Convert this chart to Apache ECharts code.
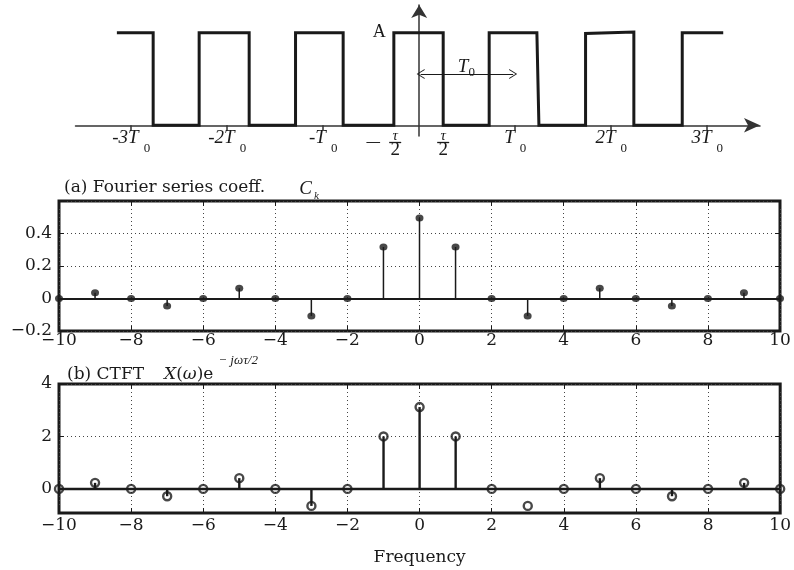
<!DOCTYPE html>
<html><head><meta charset="utf-8">
<script src="https://cdn.jsdelivr.net/npm/echarts@6/dist/echarts.min.js"></script>
<style>html,body{margin:0;padding:0;background:#fff}#c{width:794px;height:570px}</style>
</head><body><div id="c"></div>
<script>
// ---------------- data ----------------
const freqK   = [-10,-9,-8,-7,-6,-5,-4,-3,-2,-1,0,1,2,3,4,5,6,7,8,9,10];
const coeffC  = [0,0.035,0,-0.046,0,0.063,0,-0.107,0,0.317,0.495,0.317,0,-0.107,0,0.063,0,-0.046,0,0.035,0];
const ctftX   = [0,0.23,0,-0.28,0,0.41,0,-0.65,0,2.0,3.12,2.0,0,-0.65,0,0.41,0,-0.28,0,0.23,0];
const ctftNoStemK = [3];
// square wave (time in units of T0, amplitude in units of A)
const waveT = [-3.149,-2.771,-2.771,-2.292,-2.292,-1.771,-1.771,-1.288,-1.288,-0.792,-0.792,-0.264,-0.264,0.25,0.25,0.729,0.729,1.226,1.247,1.733,1.733,2.236,2.236,2.740,2.740,3.167];
const waveA = [1,1,0,0,1,1,0,0,1,1,0,0,1,1,0,0,1,1,0,0,0.993,1.008,0,0,1,1];
const waveTickT   = [-3,-2,-1,1,2,3];
const waveLabelT  = [-3,-2,-1,-0.25,0.25,1,2,3];
const waveLabelTx = ['-3T|0','-2T|0','-T|0','-frac','frac','T|0','2T|0','3T|0'];
const periodArrow = [[0.015,0.554],[0.979,0.554]];
const ampLabel    = [-0.417,1.01];
const yTicksB     = [0,2,4];

// ---------------- chart ----------------
const INK = '#1a1a1a';
const SERIF = 'DejaVu Serif';
const chart = echarts.init(document.getElementById('c'), null, {renderer:'canvas'});
const minus = s => String(s).replace('-', '\u2212');

function waveLabel(v){
  const i = waveLabelT.findIndex(t => Math.abs(t - v) < 1e-6);
  if (i < 0) return '';
  const s = waveLabelTx[i];
  if (s === '-frac') return '{z| }\n{l| }{ft|\u03c4}{r| }\n{ld|\u2014}{bar| }{r| }\n{l| }{fn|2}{r| }';
  if (s === 'frac')  return '{z| }\n{l| }{ft|\u03c4}{r| }\n{l| }{bar| }{r| }\n{l| }{fn|2}{r| }';
  const [a,b] = s.split('|');
  return '{m|' + a + '}{s|' + b + '}';
}
const waveRich = {
  m:{fontFamily:'Liberation Serif',fontStyle:'italic',fontSize:19,lineHeight:20,verticalAlign:'top',color:INK},
  s:{fontFamily:'Liberation Serif',fontSize:13,lineHeight:27,verticalAlign:'bottom',color:INK,padding:[0,0,0,5]},
  z:{width:1,fontSize:3,lineHeight:3},
  ld:{fontFamily:SERIF,fontSize:15,width:32,align:'center',lineHeight:3,color:INK},
  l:{width:32,fontSize:4,lineHeight:3},
  r:{width:32,fontSize:4,lineHeight:3},
  ft:{fontFamily:'Liberation Serif',fontStyle:'italic',fontSize:15,width:14,align:'center',lineHeight:10,color:INK},
  bar:{width:12,height:1.3,lineHeight:3,fontSize:3,backgroundColor:INK},
  fn:{fontFamily:'Liberation Serif',fontSize:19,width:14,align:'center',lineHeight:12,color:INK}
};

const stemItem = (params, api) => {
  const x = api.value(0), y = api.value(1);
  const p0 = api.coord([x, 0]), p1 = api.coord([x, y]);
  return {type:'line', shape:{x1:p0[0],y1:p0[1],x2:p1[0],y2:p1[1]},
          style:{stroke:INK, lineWidth: params.seriesIndex === 1 ? 1.5 : 2.4}};
};
const pairs = (xs, ys) => xs.map((x,i)=>[x, ys[i]]);
const gridLine = {show:true, lineStyle:{color:'#444', width:1, type:[1,3]}};
const lbl = {fontFamily:SERIF, fontSize:17, color:INK};

const panelX = (grid, top, extra) => Object.assign({
  type:'value', gridIndex:grid, min:-10, max:10, interval:2,
  position: top ? 'top' : 'bottom',
  axisLine:{show:false, onZero:false},
  axisTick:{show:true, inside:true, length:5, lineStyle:{color:INK, width:1}},
  axisLabel: top ? {show:false} : Object.assign({formatter:v=>minus(v)}, lbl),
  splitLine: top ? {show:false} : gridLine
}, extra||{});

const option = {
  animation:false,
  backgroundColor:'#fff',
  title:[
    {left:64, top:179, padding:0,
     text:'{r|(a) Fourier series coeff.}{g| }{i|C}{k|k}',
     textStyle:{fontWeight:'normal', rich:{
       r:{fontFamily:SERIF,fontWeight:'normal',fontSize:17,lineHeight:22,verticalAlign:'top',color:INK},
       g:{width:34,fontSize:10},
       i:{fontFamily:'Liberation Serif',fontWeight:'normal',fontStyle:'italic',fontSize:19,lineHeight:22,verticalAlign:'top',color:INK},
       k:{fontFamily:SERIF,fontWeight:'normal',fontStyle:'italic',fontSize:9,lineHeight:10,verticalAlign:'bottom',color:INK,padding:[0,0,0,2]}
     }}},
    {left:67, top:354, padding:0,
     text:'{r|(b) CTFT}{g| }{i|X}{r|(}{i|\u03c9}{r|)e}{sp| }{sup|\u2212 j\u03c9\u03c4/2}',
     textStyle:{fontWeight:'normal', rich:{
       r:{fontFamily:SERIF,fontWeight:'normal',fontSize:17,lineHeight:20,verticalAlign:'bottom',color:INK},
       g:{width:20,fontSize:10,lineHeight:29},
       sp:{width:5,fontSize:10},
       i:{fontFamily:SERIF,fontWeight:'normal',fontStyle:'italic',fontSize:17,lineHeight:20,verticalAlign:'bottom',color:INK},
       sup:{fontFamily:'Liberation Serif',fontWeight:'normal',fontStyle:'italic',fontSize:13,lineHeight:10,verticalAlign:'top',color:INK}
     }}}
  ],
  grid:[
    {left:75.5, top:5, width:684.5, height:131},
    {left:59, top:201, width:721, height:130, show:true, borderColor:INK, borderWidth:3, backgroundColor:'transparent'},
    {left:59, top:384, width:722, height:129, show:true, borderColor:INK, borderWidth:3, backgroundColor:'transparent'}
  ],
  xAxis:[
    {type:'value', gridIndex:0, min:-3.58, max:3.55,
     axisLine:{show:true, onZero:true, symbol:['none','arrow'], symbolSize:[11,16], lineStyle:{color:'#333', width:1.5}},
     axisTick:{show:true, customValues:waveTickT, length:5, lineStyle:{color:'#333', width:1.5}},
     axisLabel:{show:true, customValues:waveLabelT, margin:-8, formatter:waveLabel, rich:waveRich},
     splitLine:{show:false}},
    panelX(1,false,{axisLabel:Object.assign({formatter:v=>minus(v), margin:1}, lbl)}),
    panelX(1,true),
    panelX(2,false,{axisLabel:Object.assign({formatter:v=>minus(v), margin:4}, lbl),
      name:'Frequency', nameLocation:'middle', nameGap:36, nameTextStyle:lbl}),
    panelX(2,true)
  ],
  yAxis:[
    {type:'value', gridIndex:0, min:-0.116, max:1.3,
     axisLine:{show:true, onZero:true, symbol:['none','arrow'], symbolSize:[12,13], lineStyle:{color:'#333', width:1.5}},
     axisTick:{show:false}, axisLabel:{show:false}, splitLine:{show:false}},
    {type:'value', gridIndex:1, min:-0.2, max:0.6, interval:0.2,
     axisLine:{show:false, onZero:false},
     axisTick:{show:true, inside:true, length:5, lineStyle:{color:INK}},
     axisLabel:Object.assign({margin:7, formatter:v=>{const r=Math.round(v*10)/10; if (r>=0.6) return ''; return r===0?'0':minus(r.toFixed(1));}}, lbl),
     splitLine:gridLine},
    {type:'value', gridIndex:1, min:-0.2, max:0.6, interval:0.2, position:'right',
     axisLine:{show:false, onZero:false}, axisTick:{show:true, inside:true, length:5, lineStyle:{color:INK}},
     axisLabel:{show:false}, splitLine:{show:false}},
    {type:'value', gridIndex:2, min:-0.92, max:4,
     axisLine:{show:false, onZero:false},
     axisTick:{show:true, inside:true, length:5, customValues:yTicksB, lineStyle:{color:INK}},
     axisLabel:Object.assign({margin:7, customValues:yTicksB, formatter:v=>minus(v)}, lbl),
     splitLine:gridLine},
    {type:'value', gridIndex:2, min:-0.92, max:4, position:'right',
     axisLine:{show:false, onZero:false}, axisTick:{show:true, inside:true, length:5, customValues:yTicksB, lineStyle:{color:INK}},
     axisLabel:{show:false}, splitLine:{show:false}}
  ],
  series:[
    {type:'line', xAxisIndex:0, yAxisIndex:0, data:pairs(waveT, waveA), symbol:'none', clip:false,
     lineStyle:{color:INK, width:3, join:'miter'}, z:5,
     markLine:{silent:true, symbol:['path://M0,10 L5,0 L10,10 L9,10 L5,2 L1,10 Z','path://M0,10 L5,0 L10,10 L9,10 L5,2 L1,10 Z'],
       symbolSize:[10,8],
       lineStyle:{color:INK, width:1, type:'solid'},
       label:{show:true, position:'middle', distance:-5, formatter:'{i|T}{s|0}{z| }',
         rich:{i:{fontFamily:'Liberation Serif',fontStyle:'italic',fontSize:19,lineHeight:20,verticalAlign:'top',color:INK},
               s:{fontFamily:'Liberation Serif',fontSize:13,lineHeight:13,verticalAlign:'bottom',color:INK},
               z:{width:1,fontSize:4,lineHeight:22}}},
       data:[[{coord:periodArrow[0]},{coord:periodArrow[1]}]]},
     markPoint:{silent:true, symbol:'circle', symbolSize:1, itemStyle:{color:'transparent'},
       label:{show:true, position:'inside', formatter:'A', fontFamily:'Liberation Serif', fontSize:18, color:INK},
       data:[{coord:ampLabel}]}},
    {type:'custom', xAxisIndex:1, yAxisIndex:1, data:pairs(freqK, coeffC), renderItem:stemItem, clip:false, z:2,
     encode:{x:0,y:1},
     markLine:{silent:true, symbol:'none', lineStyle:{color:INK, width:2, type:'solid'}, label:{show:false},
       data:[{yAxis:0}]}},
    {type:'scatter', xAxisIndex:1, yAxisIndex:1, data:pairs(freqK, coeffC), symbol:'circle', symbolSize:[8,7],
     itemStyle:{color:INK}, clip:false, z:4},
    {type:'custom', xAxisIndex:3, yAxisIndex:3,
     data:pairs(freqK, ctftX).filter(p=>!ctftNoStemK.includes(p[0])), renderItem:stemItem, clip:false, z:2,
     encode:{x:0,y:1},
     markLine:{silent:true, symbol:'none', lineStyle:{color:INK, width:2.4, type:'solid'}, label:{show:false},
       data:[{yAxis:0}]}},
    {type:'scatter', xAxisIndex:3, yAxisIndex:3, data:pairs(freqK, ctftX), symbol:'circle', symbolSize:8,
     itemStyle:{color:'rgba(0,0,0,0)', borderColor:INK, borderWidth:2.4}, clip:false, z:4}
  ]
};
chart.setOption(option);
</script></body></html>
